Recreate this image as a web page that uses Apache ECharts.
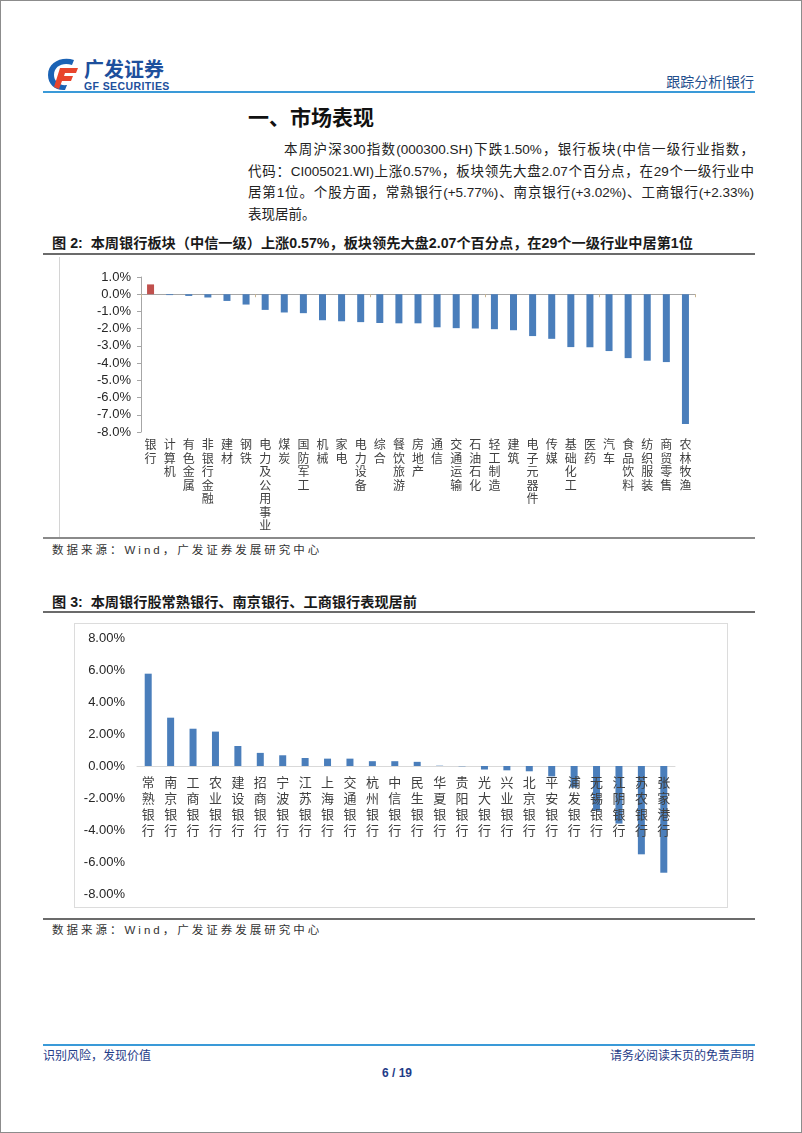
<!DOCTYPE html>
<html>
<head>
<meta charset="utf-8">
<script src="https://cdn.jsdelivr.net/npm/echarts@6/dist/echarts.min.js"></script>
<style>
  body {
    margin: 0;
    width: 802px;
    height: 1133px;
    position: relative;
    background: #fff;
    overflow: hidden;
    font-family: "Liberation Sans", "Noto Sans CJK SC", sans-serif;
    color: #222;
  }
  .abs { position: absolute; white-space: nowrap; }
  .frame { position: absolute; left: 0; top: 0; width: 802px; height: 1133px; box-sizing: border-box; border: 1px solid #8c8c8c; }
  .hline { position: absolute; left: 43px; width: 712px; }
  .para div { height: 21.5px; line-height: 21.5px; white-space: nowrap; text-align: justify; text-align-last: justify; }
  .para div.last { text-align-last: left; }
  .figTitle { font-size: 14.2px; font-weight: bold; line-height: 17px; color: #1a1a1a; }
  .note { font-size: 11.5px; line-height: 14px; color: #333; letter-spacing: 3px; }
  .foot { font-size: 12px; line-height: 15px; color: #1f3c88; }
</style>
</head>
<body>
<div class="frame"></div>

<!-- 页眉 -->
<svg class="abs" style="left:44px;top:56px" width="38" height="36" viewBox="0 0 38 36">
  <path d="M30 4 C18 0 4 6 4 19 C4 29 12 35 21 34 L23 29 C15 30 10 25 10 19 C10 10 19 6 28 9 Z" fill="#1b63b5"/>
  <path d="M16 12 L34 12 L32 17 L21 17 L20 20 L29 20 L27 25 L18 25 L15 33 L10 31 Z" fill="#e8452c"/>
</svg>
<div class="abs" style="left:84px;top:57px;font-size:20px;line-height:24px;font-weight:bold;color:#1d4f9c;font-family:'Noto Sans CJK SC'">广发证券</div>
<div class="abs" style="left:84px;top:80px;font-size:10.5px;line-height:12px;font-weight:bold;color:#1d4f9c;letter-spacing:0.4px">GF SECURITIES</div>
<div class="abs" style="right:48px;top:73px;font-size:14px;line-height:18px;color:#1f4e8c">跟踪分析|银行</div>
<div class="hline" style="top:91px;height:2px;background:#3a9ad8"></div>

<!-- 正文 -->
<div class="abs" style="left:248px;top:103px;font-size:21px;line-height:26px;font-weight:bold;font-family:'Noto Sans CJK SC';color:#111">一、市场表现</div>
<div class="abs para" style="left:248px;top:139px;width:506px;font-size:13.5px;white-space:normal">
  <div style="padding-left:36px">本周沪深300指数(000300.SH)下跌1.50%，银行板块(中信一级行业指数，</div>
  <div>代码：CI005021.WI)上涨0.57%，板块领先大盘2.07个百分点，在29个一级行业中</div>
  <div>居第1位。个股方面，常熟银行(+5.77%)、南京银行(+3.02%)、工商银行(+2.33%)</div>
  <div class="last">表现居前。</div>
</div>

<!-- 图2 -->
<div class="abs figTitle" style="left:52px;top:235px">图 2:&nbsp; 本周银行板块（中信一级）上涨0.57%，板块领先大盘2.07个百分点，在29个一级行业中居第1位</div>
<div class="hline" style="top:253px;height:2px;background:#6b6b6b"></div>
<div class="abs" style="left:59px;top:257px;width:1px;height:280px;background:#d4d4d4"></div>
<div id="chart1" class="abs" style="left:0;top:256px;width:802px;height:281px"></div>
<div class="hline" style="top:537px;height:2px;background:#8a8a8a"></div>
<div class="abs note" style="left:52px;top:543px">数据来源：Wind，广发证券发展研究中心</div>

<!-- 图3 -->
<div class="abs figTitle" style="left:52px;top:594px">图 3:&nbsp; 本周银行股常熟银行、南京银行、工商银行表现居前</div>
<div class="hline" style="top:611px;height:2px;background:#6b6b6b"></div>
<div class="abs" style="left:74px;top:623px;width:654px;height:285px;box-sizing:border-box;border:1px solid #dcdcdc"></div>
<div id="chart2" class="abs" style="left:0;top:624px;width:802px;height:283px"></div>
<div class="hline" style="top:918px;height:2px;background:#6b6b6b"></div>
<div class="abs note" style="left:52px;top:923px">数据来源：Wind，广发证券发展研究中心</div>

<!-- 页脚 -->
<div class="hline" style="top:1044px;height:2px;background:#3a9ad8"></div>
<div class="abs foot" style="left:43px;top:1049px">识别风险，发现价值</div>
<div class="abs foot" style="right:48px;top:1049px">请务必阅读末页的免责声明</div>
<div class="abs foot" style="left:382px;top:1066px;font-weight:bold">6 / 19</div>

<script>
// 中信一级行业周涨跌幅(%)
const industries = ['银行', '计算机', '有色金属', '非银行金融', '建材', '钢铁', '电力及公用事业', '煤炭', '国防军工', '机械',
  '家电', '电力设备', '综合', '餐饮旅游', '房地产', '通信', '交通运输', '石油石化', '轻工制造', '建筑',
  '电子元器件', '传媒', '基础化工', '医药', '汽车', '食品饮料', '纺织服装', '商贸零售', '农林牧渔']
const industryChg = [0.57, -0.05, -0.10, -0.19, -0.39, -0.60, -0.91, -1.06, -1.10, -1.51,
  -1.57, -1.62, -1.67, -1.69, -1.69, -1.92, -1.97, -1.99, -2.03, -2.09,
  -2.43, -2.59, -3.07, -3.08, -3.30, -3.71, -3.86, -3.94, -7.54]

// 银行个股周涨跌幅(%)
const banks = ['常熟银行', '南京银行', '工商银行', '农业银行', '建设银行', '招商银行', '宁波银行', '江苏银行',
  '上海银行', '交通银行', '杭州银行', '中信银行', '民生银行', '华夏银行', '贵阳银行', '光大银行',
  '兴业银行', '北京银行', '平安银行', '浦发银行', '无锡银行', '江阴银行', '苏农银行', '张家港行']
const bankChg = [5.77, 3.02, 2.33, 2.15, 1.25, 0.82, 0.67, 0.50, 0.46, 0.46, 0.30, 0.30, 0.26, 0.02,
  -0.02, -0.22, -0.27, -0.33, -0.65, -1.35, -2.80, -3.60, -5.52, -6.67]

// 坐标轴刻度
const yTicks1 = { min: -8, max: 1, step: 1 }
const yTicks2 = { min: -8, max: 8, step: 2 }

const vertical = s => s.split('').join('\n')
const cjk = '"Noto Sans CJK SC", sans-serif'

// 图2 行业柱状图
const chart1 = echarts.init(document.getElementById('chart1'))
chart1.setOption({
  animation: false,
  grid: { left: 141, top: 21, width: 554, height: 155, containLabel: false, outerBoundsMode: 'none' },
  xAxis: [
    {
      // 零轴线和刻度
      type: 'category',
      data: industries,
      axisLine: { onZero: true, lineStyle: { color: '#a6a6a6', width: 1 } },
      axisTick: { show: true, length: 3, lineStyle: { color: '#c9b48f' } },
      axisLabel: { show: false }
    },
    {
      // 底部竖排标签
      type: 'category',
      position: 'bottom',
      data: industries,
      axisLine: { show: false, onZero: false },
      axisTick: { show: false },
      axisLabel: {
        interval: 0,
        margin: 6,
        formatter: vertical,
        fontSize: 12,
        lineHeight: 13.5,
        verticalAlign: 'top',
        color: '#404040',
        fontFamily: cjk
      }
    }
  ],
  yAxis: {
    type: 'value',
    min: yTicks1.min,
    max: yTicks1.max,
    interval: yTicks1.step,
    splitLine: { show: false },
    axisLine: { show: true, lineStyle: { color: '#a6a6a6' } },
    axisTick: { show: true, length: 4, lineStyle: { color: '#a6a6a6' } },
    axisLabel: {
      margin: 10,
      fontSize: 13,
      color: '#262626',
      fontFamily: 'Liberation Sans, Arial',
      formatter: v => v.toFixed(1) + '%'
    }
  },
  series: [{
    type: 'bar',
    xAxisIndex: 0,
    barWidth: 7,
    data: industryChg.map((v, i) => ({
      value: v,
      itemStyle: { color: industries[i] === '银行' ? '#c0504d' : '#4a7ebb' }
    }))
  }]
})

// 图3 银行个股柱状图
const chart2 = echarts.init(document.getElementById('chart2'))
chart2.setOption({
  animation: false,
  grid: { left: 137, top: 14, width: 538, height: 256, containLabel: false, outerBoundsMode: 'none' },
  xAxis: [
    {
      // 零轴线
      type: 'category',
      data: banks,
      axisLine: { onZero: true, lineStyle: { color: '#d9d9d9' } },
      axisTick: { show: false },
      axisLabel: { show: false }
    },
    {
      // 零轴下方竖排标签（覆盖在柱子上）
      type: 'category',
      position: 'bottom',
      offset: -128,
      z: 10,
      data: banks,
      axisLine: { show: false, onZero: false },
      axisTick: { show: false },
      axisLabel: {
        interval: 0,
        margin: 8,
        formatter: vertical,
        fontSize: 13,
        lineHeight: 16,
        verticalAlign: 'top',
        color: '#404040',
        fontFamily: cjk
      }
    }
  ],
  yAxis: {
    type: 'value',
    min: yTicks2.min,
    max: yTicks2.max,
    interval: yTicks2.step,
    splitLine: { show: false },
    axisLine: { show: false },
    axisTick: { show: false },
    axisLabel: {
      margin: 12,
      fontSize: 13,
      color: '#262626',
      fontFamily: 'Liberation Sans, Arial',
      formatter: v => v.toFixed(2) + '%'
    }
  },
  series: [{
    type: 'bar',
    xAxisIndex: 0,
    barWidth: 7,
    itemStyle: { color: '#4a7ebb' },
    data: bankChg
  }]
})
</script>
</body>
</html>
